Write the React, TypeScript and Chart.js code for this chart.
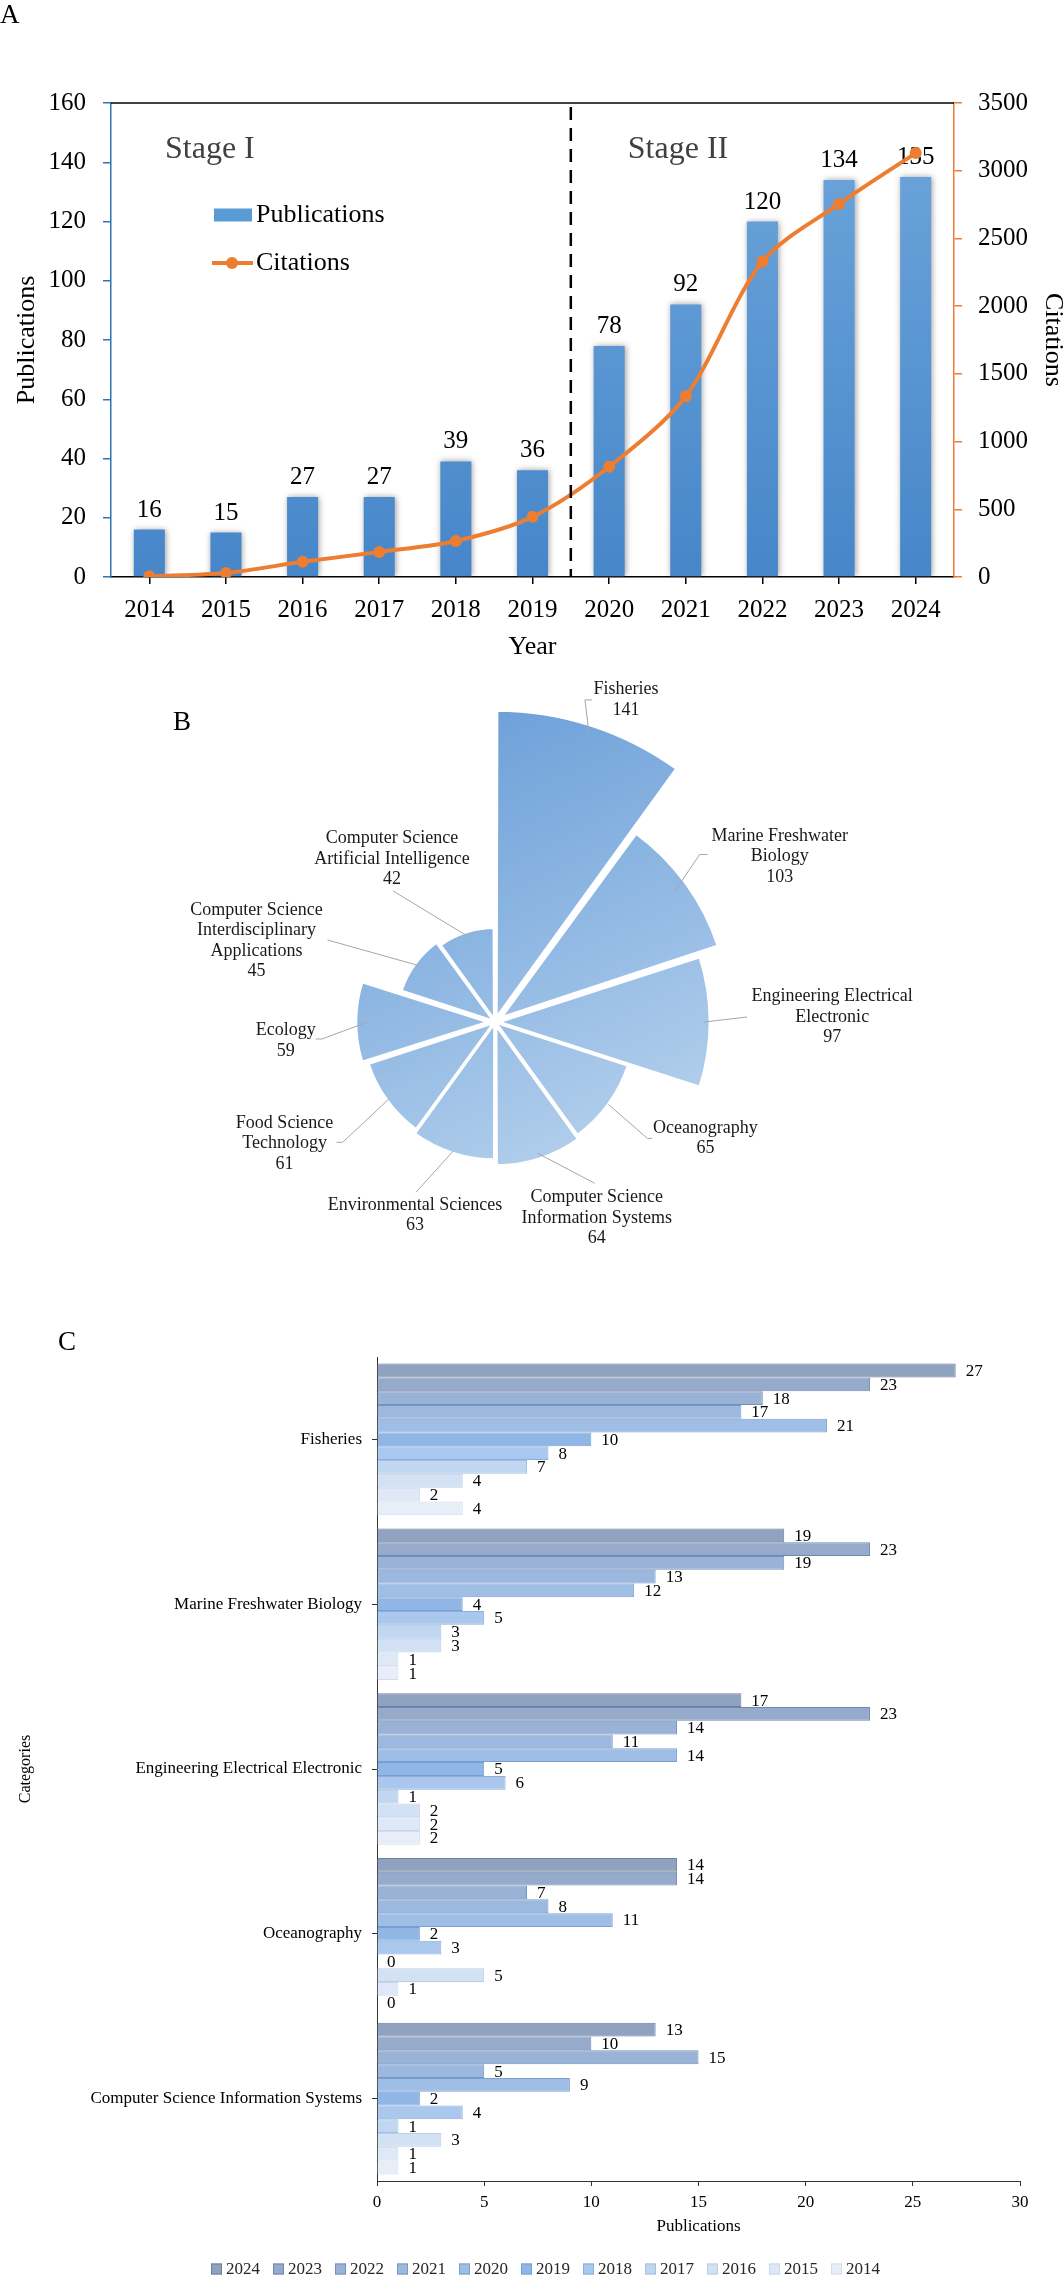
import React, { useEffect, useRef } from 'react';
import { Chart, registerables } from 'chart.js';

Chart.register(...registerables);

const SERIF = "'Liberation Serif', 'Times New Roman', Times, serif";
Chart.defaults.font.family = SERIF;
const PAGE_W = 1063;

// ---------------- Panel A data ----------------
const YEARS = ['2014', '2015', '2016', '2017', '2018', '2019', '2020', '2021', '2022', '2023', '2024'];
const PUBLICATIONS = [16, 15, 27, 27, 39, 36, 78, 92, 120, 134, 135];
const CITATIONS = [5, 30, 112, 185, 266, 444, 814, 1335, 2330, 2755, 3130];
const STAGES = ['Stage I', 'Stage II'];
const STAGE_SPLIT_INDEX = 5; // boundary between 2019 and 2020

// ---------------- Panel B data ----------------
const FIELD_NAMES = [
  'Fisheries',
  'Marine Freshwater Biology',
  'Engineering Electrical Electronic',
  'Oceanography',
  'Computer Science Information Systems',
  'Environmental Sciences',
  'Food Science Technology',
  'Ecology',
  'Computer Science Interdisciplinary Applications',
  'Computer Science Artificial Intelligence',
];
const FIELD_LABEL_LINES = [
  ['Fisheries'],
  ['Marine Freshwater', 'Biology'],
  ['Engineering Electrical', 'Electronic'],
  ['Oceanography'],
  ['Computer Science', 'Information Systems'],
  ['Environmental Sciences'],
  ['Food Science', 'Technology'],
  ['Ecology'],
  ['Computer Science', 'Interdisciplinary', 'Applications'],
  ['Computer Science', 'Artificial Intelligence'],
];
const FIELD_RECORDS = [141, 103, 97, 65, 64, 63, 61, 59, 45, 42];

// ---------------- Panel C data ----------------
const TOP_FIELDS = [
  'Fisheries',
  'Marine Freshwater Biology',
  'Engineering Electrical Electronic',
  'Oceanography',
  'Computer Science Information Systems',
];
const YEAR_SERIES = ['2024', '2023', '2022', '2021', '2020', '2019', '2018', '2017', '2016', '2015', '2014'];
const PUB_2024 = [27, 19, 17, 14, 13];
const PUB_2023 = [23, 23, 23, 14, 10];
const PUB_2022 = [18, 19, 14, 7, 15];
const PUB_2021 = [17, 13, 11, 8, 5];
const PUB_2020 = [21, 12, 14, 11, 9];
const PUB_2019 = [10, 4, 5, 2, 2];
const PUB_2018 = [8, 5, 6, 3, 4];
const PUB_2017 = [7, 3, 1, 0, 1];
const PUB_2016 = [4, 3, 2, 5, 3];
const PUB_2015 = [2, 1, 2, 1, 1];
const PUB_2014 = [4, 1, 2, 0, 1];
const C_SERIES = [PUB_2024, PUB_2023, PUB_2022, PUB_2021, PUB_2020, PUB_2019, PUB_2018, PUB_2017, PUB_2016, PUB_2015, PUB_2014];

// ---------------- Styles ----------------
const C_FILLS = ['#8FA2BF', '#96ABCB', '#99B2D6', '#9CB8DE', '#9FBEE6', '#8FB6E5', '#AAC8ED', '#C1D6F0', '#D3E1F5', '#DEE8F6', '#E8EEF8'];
const C_BORDERS = ['#6B7F9E', '#7088AE', '#7390BD', '#7797C6', '#7C9FCF', '#75A0D6', '#8CAEDB', '#A5BFE3', '#BACDE9', '#C7D6EC', '#D2DDEE'];
const SLICE_OFFSETS = [16, 28, 12, 0, 12, 4, 4, 24, 4, 8];
// label placement relative to each slice's outer mid-point: leader line vertices and text centre
const LABEL_LAYOUT_B = [
  { line: [[-4, -33], [3, -33]], text: [37, -33] },
  { line: [[25, -37], [33, -37]], text: [105, -35] },
  { line: [[43, -5]], text: [128, -5] },
  { line: [[39, 34], [44, 34]], text: [97, 34] },
  { line: [[57, 30]], text: [59, 65] },
  { line: [[-37, 41]], text: [-38, 64] },
  { line: [[-46, 43], [-52, 43]], text: [-104, 44] },
  { line: [[-46, 17], [-52, 17]], text: [-82, 19] },
  { line: [[-89, -25]], text: [-160, -24] },
  { line: [[-74, -45]], text: [-75, -77] },
];

function font(size: number) {
  return { family: SERIF, size };
}
const plainNumber = (v: any) => String(v);

// ---------------- Panel A ----------------
function buildA(canvas: HTMLCanvasElement) {
  const barFill = (ctx: any) => {
    const chart = ctx.chart;
    const a = chart.chartArea;
    if (!a) return '#5B9BD5';
    const g = chart.ctx.createLinearGradient(0, a.top, 0, a.bottom);
    g.addColorStop(0, '#6FA7DC');
    g.addColorStop(1, '#4686C9');
    return g;
  };
  const plugin = {
    id: 'panelA',
    beforeDatasetDraw(chart: any, args: any) {
      if (args.meta.type === 'bar') {
        const c = chart.ctx;
        c.save();
        c.shadowColor = 'rgba(0,0,0,0.38)';
        c.shadowBlur = 6;
        c.shadowOffsetX = 1;
      }
    },
    afterDatasetDraw(chart: any, args: any) {
      if (args.meta.type === 'bar') {
        const c = chart.ctx;
        c.restore();
        c.save();
        c.font = `25px ${SERIF}`;
        c.fillStyle = '#000';
        c.textAlign = 'center';
        c.textBaseline = 'alphabetic';
        const values = chart.data.datasets[args.index].data;
        args.meta.data.forEach((el: any, i: number) => {
          c.fillText(String(values[i]), el.x, el.y - 13);
        });
        c.restore();
      }
    },
    afterDraw(chart: any) {
      const c = chart.ctx;
      const a = chart.chartArea;
      const xs = chart.scales.x;
      c.save();
      // top frame line
      c.strokeStyle = '#000';
      c.lineWidth = 1.5;
      c.beginPath();
      c.moveTo(a.left, a.top);
      c.lineTo(a.right, a.top);
      c.stroke();
      // stage divider
      const xd = (xs.getPixelForValue(STAGE_SPLIT_INDEX) + xs.getPixelForValue(STAGE_SPLIT_INDEX + 1)) / 2;
      c.setLineDash([13, 8]);
      c.lineWidth = 2.5;
      c.beginPath();
      c.moveTo(xd, a.top + 4);
      c.lineTo(xd, a.bottom);
      c.stroke();
      c.setLineDash([]);
      // stage labels
      c.font = `32px ${SERIF}`;
      c.fillStyle = '#404040';
      c.textAlign = 'left';
      c.textBaseline = 'alphabetic';
      c.fillText(STAGES[0], a.left + 54, a.top + 55);
      c.fillText(STAGES[1], xd + 57, a.top + 55);
      // legend
      const ds = chart.data.datasets;
      const lx = a.left + 103;
      c.fillStyle = '#5B9BD5';
      c.fillRect(lx, a.top + 105.5, 38, 13);
      c.strokeStyle = ds[1].borderColor;
      c.lineWidth = 4;
      c.beginPath();
      c.moveTo(lx - 2, a.top + 160);
      c.lineTo(lx + 39, a.top + 160);
      c.stroke();
      c.fillStyle = ds[1].borderColor;
      c.beginPath();
      c.arc(lx + 18, a.top + 160, 6, 0, Math.PI * 2);
      c.fill();
      c.font = `26px ${SERIF}`;
      c.fillStyle = '#000';
      c.textBaseline = 'middle';
      c.fillText(ds[0].label, lx + 42, a.top + 112);
      c.fillText(ds[1].label, lx + 42, a.top + 160);
      // panel letter
      c.font = `27px ${SERIF}`;
      c.textBaseline = 'alphabetic';
      c.fillText('A', 0, 23);
      c.restore();
    },
  };
  return new Chart(canvas, {
    type: 'bar',
    data: {
      labels: YEARS,
      datasets: [
        {
          type: 'bar',
          label: 'Publications',
          data: PUBLICATIONS,
          yAxisID: 'y',
          backgroundColor: barFill,
          barPercentage: 0.405,
          categoryPercentage: 1,
          order: 2,
        },
        {
          type: 'line',
          label: 'Citations',
          data: CITATIONS,
          yAxisID: 'y1',
          borderColor: '#ED7D31',
          backgroundColor: '#ED7D31',
          borderWidth: 4,
          pointRadius: 6,
          pointBackgroundColor: '#ED7D31',
          pointBorderColor: '#ED7D31',
          pointBorderWidth: 0,
          tension: 0.3,
          order: 1,
        },
      ] as any,
    },
    options: {
      responsive: true,
      maintainAspectRatio: false,
      animation: false,
      layout: { padding: { top: 103, left: 0, right: 0, bottom: 0 } },
      plugins: { legend: { display: false }, tooltip: { enabled: false } },
      scales: {
        x: {
          offset: true,
          grid: { offset: false, drawOnChartArea: false, drawTicks: true, tickLength: 7, color: '#000', lineWidth: 1.5 },
          border: { display: true, color: '#000', width: 1.5 },
          ticks: { font: font(25), color: '#000', padding: 11, maxRotation: 0, autoSkip: false },
          title: { display: true, text: 'Year', font: font(26), color: '#000', padding: { top: 0, bottom: 7 } },
          afterFit: (s: any) => { s.height = 93; },
        },
        y: {
          position: 'left',
          min: 0,
          max: 160,
          ticks: { stepSize: 20, font: font(25), color: '#000', padding: 17, callback: plainNumber },
          grid: { drawOnChartArea: false, color: '#2E75B6', tickLength: 8, lineWidth: 1.5 },
          border: { display: true, color: '#2E75B6', width: 1.5 },
          title: { display: true, text: 'Publications', font: font(26), color: '#000', padding: { top: 12, bottom: 0 } },
          afterFit: (s: any) => { s.width = 111; },
        },
        y1: {
          position: 'right',
          min: 0,
          max: 3500,
          ticks: { stepSize: 500, font: font(25), color: '#000', padding: 16, callback: plainNumber },
          grid: { drawOnChartArea: false, color: '#ED7D31', tickLength: 8, lineWidth: 1.5 },
          border: { display: true, color: '#ED7D31', width: 1.5 },
          title: { display: true, text: 'Citations', font: font(26), color: '#000', padding: { top: -5, bottom: 0 } },
          afterFit: (s: any) => { s.width = 109; },
        },
      } as any,
    },
    plugins: [plugin],
  } as any);
}

// ---------------- Panel B ----------------
function buildB(canvas: HTMLCanvasElement) {
  const sliceFill = (ctx: any) => {
    const chart = ctx.chart;
    const s = chart.scales && chart.scales.r;
    if (!s || !s.drawingArea) return '#93B9E3';
    const R = s.drawingArea;
    const cx = s.xCenter;
    const cy = s.yCenter;
    const g = chart.ctx.createLinearGradient(cx - 0.38 * R, cy - 0.96 * R, cx + 0.35 * R, cy + 0.59 * R);
    g.addColorStop(0, '#699DD7');
    g.addColorStop(0.5, '#90B8E3');
    g.addColorStop(1, '#BAD4EE');
    return g;
  };
  const plugin = {
    id: 'panelB',
    afterDatasetsDraw(chart: any) {
      const c = chart.ctx;
      const meta = chart.getDatasetMeta(0);
      c.save();
      c.font = `18px ${SERIF}`;
      c.textAlign = 'center';
      c.textBaseline = 'middle';
      meta.data.forEach((arc: any, i: number) => {
        const p = arc.getProps(['x', 'y', 'startAngle', 'endAngle', 'outerRadius'], true);
        const mid = (p.startAngle + p.endAngle) / 2;
        const ax = p.x + Math.cos(mid) * p.outerRadius;
        const ay = p.y + Math.sin(mid) * p.outerRadius;
        const L = LABEL_LAYOUT_B[i];
        c.strokeStyle = '#A6A6A6';
        c.lineWidth = 1;
        c.beginPath();
        c.moveTo(ax, ay);
        L.line.forEach(([dx, dy]) => c.lineTo(ax + dx, ay + dy));
        c.stroke();
        const lines = [...FIELD_LABEL_LINES[i], String(chart.data.datasets[0].data[i])];
        const lh = 20.5;
        const tx = ax + L.text[0];
        const ty0 = ay + L.text[1] - ((lines.length - 1) * lh) / 2;
        c.fillStyle = '#1a1a1a';
        lines.forEach((t, k) => c.fillText(t, tx, ty0 + k * lh));
      });
      c.font = `27px ${SERIF}`;
      c.fillStyle = '#000';
      c.textBaseline = 'alphabetic';
      c.fillText('B', 182, 70);
      c.restore();
    },
  };
  return new Chart(canvas, {
    type: 'polarArea',
    data: {
      labels: FIELD_NAMES,
      datasets: [
        {
          data: FIELD_RECORDS,
          backgroundColor: sliceFill,
          borderColor: '#ffffff',
          borderWidth: 3,
          offset: SLICE_OFFSETS,
        },
      ],
    },
    options: {
      responsive: true,
      maintainAspectRatio: false,
      animation: false,
      layout: { padding: { left: 191, right: 264, top: 58, bottom: 14 } },
      plugins: { legend: { display: false }, tooltip: { enabled: false } },
      scales: {
        r: {
          min: 0,
          max: Math.max(...FIELD_RECORDS),
          startAngle: 0,
          ticks: { display: false },
          grid: { display: false },
          angleLines: { display: false },
          pointLabels: { display: false },
        },
      },
    } as any,
    plugins: [plugin],
  } as any);
}

// ---------------- Panel C ----------------
function buildC(canvas: HTMLCanvasElement) {
  const plugin = {
    id: 'panelC',
    afterDatasetsDraw(chart: any) {
      const c = chart.ctx;
      c.save();
      c.font = `17px ${SERIF}`;
      c.fillStyle = '#000';
      c.textAlign = 'left';
      c.textBaseline = 'middle';
      chart.data.datasets.forEach((ds: any, di: number) => {
        const meta = chart.getDatasetMeta(di);
        meta.data.forEach((el: any, i: number) => {
          c.fillText(String(ds.data[i]), el.x + 10, el.y + 1);
        });
      });
      c.restore();
    },
    afterDraw(chart: any) {
      const c = chart.ctx;
      c.save();
      // legend
      c.font = `17px ${SERIF}`;
      c.textBaseline = 'middle';
      c.textAlign = 'left';
      let x = 211;
      const y = 959;
      chart.data.datasets.forEach((ds: any) => {
        c.fillStyle = ds.backgroundColor;
        c.fillRect(x, y - 5.5, 11, 11);
        c.strokeStyle = ds.borderColor;
        c.lineWidth = 1;
        c.strokeRect(x + 0.5, y - 5, 10, 10);
        c.fillStyle = '#262626';
        c.fillText(ds.label, x + 15, y + 1);
        x += 11 + 4 + c.measureText(ds.label).width + 13;
      });
      // panel letter
      c.font = `27px ${SERIF}`;
      c.fillStyle = '#000';
      c.textAlign = 'center';
      c.textBaseline = 'alphabetic';
      c.fillText('C', 67, 40);
      c.restore();
    },
  };
  return new Chart(canvas, {
    type: 'bar',
    data: {
      labels: TOP_FIELDS,
      datasets: YEAR_SERIES.map((label, i) => ({
        label,
        data: C_SERIES[i],
        backgroundColor: C_FILLS[i],
        borderColor: C_BORDERS[i],
        borderWidth: 1,
        categoryPercentage: 0.92,
        barPercentage: 1,
      })),
    },
    options: {
      indexAxis: 'y',
      responsive: true,
      maintainAspectRatio: false,
      animation: false,
      layout: { padding: { top: 47, right: 43, left: 0, bottom: 0 } },
      plugins: { legend: { display: false }, tooltip: { enabled: false } },
      scales: {
        x: {
          min: 0,
          max: 30,
          ticks: { stepSize: 5, font: font(17), color: '#000', padding: 6, callback: plainNumber },
          grid: { drawOnChartArea: false, tickLength: 5, color: '#333' },
          border: { display: true, color: '#333' },
          title: { display: true, text: 'Publications', font: font(17), color: '#000', padding: { top: 0, bottom: 40 } },
          afterFit: (s: any) => { s.height = 96; },
        },
        y: {
          ticks: { font: font(17), color: '#000', padding: 10, autoSkip: false },
          grid: { offset: false, drawOnChartArea: false, tickLength: 5, color: '#333' },
          border: { display: true, color: '#333' },
          title: { display: true, text: 'Categories', font: font(16), color: '#000', padding: { top: 16, bottom: 0 } },
          afterFit: (s: any) => { s.width = 377; },
        },
      },
    } as any,
    plugins: [plugin],
  } as any);
}

function ChartBox({ top, height, build }: { top: number; height: number; build: (c: HTMLCanvasElement) => Chart }) {
  const ref = useRef<HTMLCanvasElement>(null);
  useEffect(() => {
    if (!ref.current) return;
    const chart = build(ref.current);
    return () => chart.destroy();
  }, [build]);
  return (
    <div style={{ position: 'absolute', left: 0, top, width: PAGE_W, height }}>
      <canvas ref={ref} />
    </div>
  );
}

export default function App() {
  return (
    <div style={{ position: 'absolute', left: 0, top: 0, width: PAGE_W, height: 2277, background: '#fff', overflow: 'hidden' }}>
      <ChartBox top={0} height={670} build={buildA} />
      <ChartBox top={660} height={680} build={buildB} />
      <ChartBox top={1310} height={967} build={buildC} />
    </div>
  );
}
